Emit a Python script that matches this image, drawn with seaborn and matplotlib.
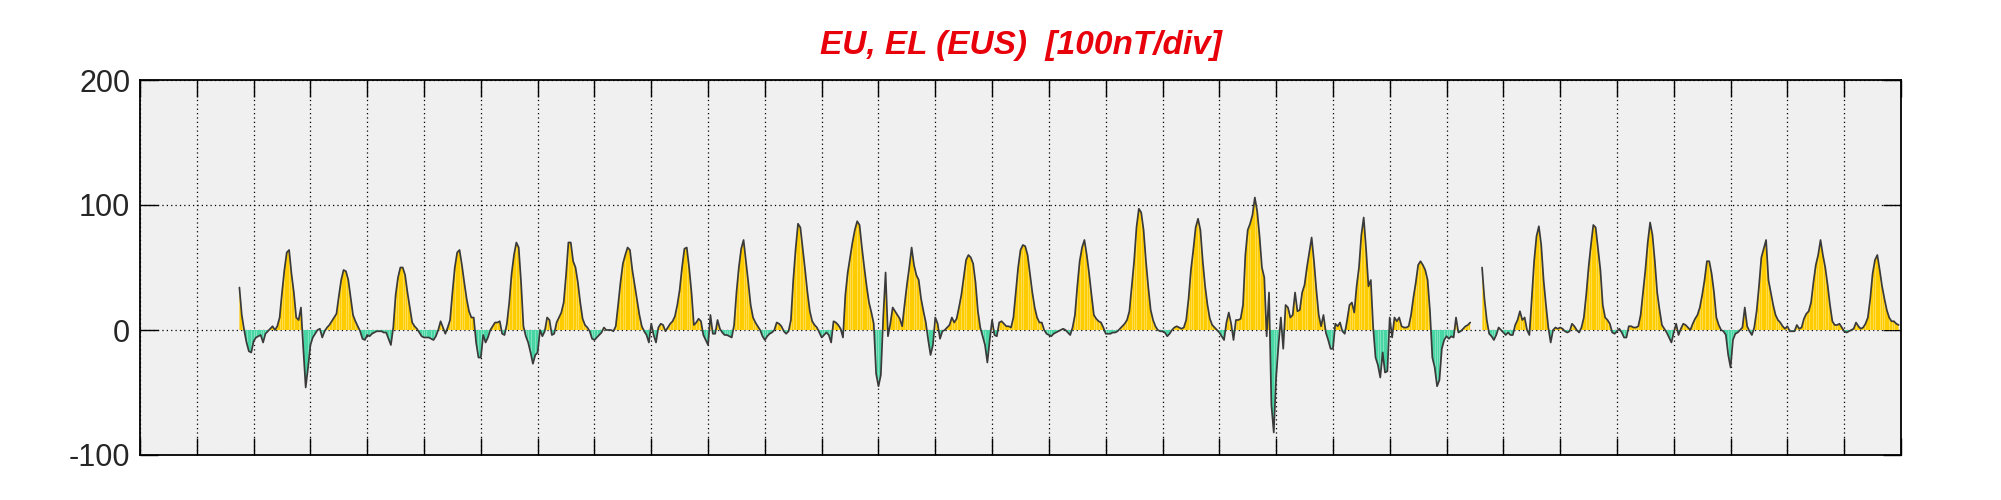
import numpy as np
import pandas as pd
import matplotlib
matplotlib.use("Agg")
import matplotlib.pyplot as plt
import seaborn as sns

nan = np.nan

# Hourly EU/EL values (nT), one list per calendar day (24 hours each)
day02 = [nan]*18 + [34, 12, 0, -10, -17, -18]
day03 = [-9, -6, -5, -4, -10, -3, -1, 1, 3, 0, 3, 10, 30, 48, 62, 64, 45, 30, 10, 8, 18, -15, -46, -30]
day04 = [-12, -6, -3, 0, 1, -6, -1, 2, 4, 7, 10, 13, 27, 40, 48, 47, 40, 26, 12, 7, 3, -1, -7, -8]
day05 = [-4, -5, -3, -2, -1, -1, -1, -2, -2, -7, -12, 2, 28, 42, 50, 50, 44, 30, 18, 6, 3, 1, -2, -5]
day06 = [-6, -6, -6, -7, -8, -5, 0, 7, 2, -3, 2, 8, 30, 50, 62, 64, 52, 38, 25, 15, 10, 10, -10, -22]
day07 = [-22, -4, -10, -6, 0, 3, 6, 6, 7, -3, -4, 5, 22, 45, 60, 70, 66, 38, 3, -5, -10, -18, -27, -20]
day08 = [-18, 0, -5, -1, 10, 8, -4, -3, 6, 10, 14, 22, 44, 70, 70, 55, 50, 38, 22, 9, 4, 2, -1, -7]
day09 = [-8, -6, -4, -2, 2, 0, 0, 0, -1, 3, 20, 38, 53, 60, 66, 64, 48, 36, 24, 12, 3, -1, -4, -10]
day10 = [5, -4, -10, 2, 5, 4, -1, 2, 5, 7, 11, 20, 32, 50, 65, 66, 50, 30, 4, 6, 9, 7, -4, -8]
day11 = [-12, 12, -3, -3, 8, 1, -2, -4, -4, -5, -6, 4, 30, 50, 65, 72, 55, 38, 20, 10, 6, 3, 0, -5]
day12 = [-8, -5, -3, -2, 0, 6, 5, 3, -1, -3, -1, 8, 40, 65, 85, 82, 65, 48, 30, 15, 7, 4, 2, -2]
day13 = [-6, -4, -2, -4, -10, 7, 6, 4, 1, -6, 28, 46, 58, 70, 80, 87, 84, 66, 50, 35, 22, 14, 5, -35]
day14 = [-45, -36, 10, 46, -5, 5, 18, 15, 12, 9, 3, 20, 36, 50, 66, 52, 44, 40, 25, 15, 6, -8, -20, -12]
day15 = [10, 5, -7, -1, 0, 2, 4, 10, 6, 9, 18, 28, 42, 56, 60, 58, 53, 38, 15, 2, -5, -12, -26, -8]
day16 = [8, -4, -5, 6, 7, 5, 3, 3, 2, 10, 30, 50, 64, 68, 67, 60, 45, 30, 18, 10, 6, 6, 0, -3]
day17 = [-4, -5, -3, -2, -1, 0, 1, 0, -2, -4, 2, 12, 35, 55, 66, 72, 60, 45, 28, 12, 9, 7, 6, 2]
day18 = [-3, -3, -3, -2, -2, -1, 1, 3, 5, 8, 15, 35, 55, 82, 97, 94, 80, 55, 34, 16, 8, 3, 0, -1]
day19 = [-1, -2, -5, -3, 0, 2, 3, 2, 1, 2, 8, 25, 48, 64, 82, 89, 80, 55, 35, 20, 9, 4, 2, 0]
day20 = [-2, -5, -8, 6, 14, 5, -8, 8, 8, 9, 20, 60, 80, 85, 92, 106, 95, 75, 50, 42, -5, 30, -60, -82]
day21 = [-38, -12, 10, -15, 20, 18, 10, 12, 30, 15, 16, 30, 36, 50, 62, 74, 55, 32, 12, 3, 12, -2, -8, -15]
day22 = [-15, 5, 3, 6, -1, -3, 8, 20, 22, 14, 35, 50, 76, 90, 65, 35, 40, 2, -22, -28, -38, -18, -34, -33]
day23 = [10, -6, 10, 7, 10, 3, 2, 2, 3, 12, 26, 38, 52, 55, 52, 48, 40, 15, -22, -30, -45, -40, -15, -8]
day24 = [-5, -7, -5, -6, 10, -2, -1, 1, 3, 4, 6, nan, nan, nan, nan, 50, 25, 8, -3, -5, -8, -4, 2, 0]
day25 = [-2, -4, -2, -4, -4, 4, 8, 15, 8, 10, 0, -4, 25, 55, 75, 83, 68, 40, 20, 2, -10, 0, 2, 1]
day26 = [2, 1, -1, -2, -1, 5, 3, 0, -2, 2, 10, 28, 50, 68, 84, 82, 65, 48, 20, 10, 8, 5, -2, -3]
day27 = [-1, 1, -2, -6, -6, 3, 3, 2, 2, 3, 12, 30, 48, 70, 86, 76, 55, 30, 16, 4, 1, -2, -6, -10]
day28 = [-2, 5, -4, 1, 5, 4, 2, 0, 5, 9, 12, 18, 28, 40, 55, 55, 45, 30, 10, 4, 0, -1, -4, -20]
day29 = [-30, -8, -3, -2, 0, 2, 18, 3, -1, -4, 2, 15, 35, 58, 65, 72, 40, 30, 20, 12, 8, 6, 3, 1]
day30 = [3, -1, -1, -1, 4, 1, 2, 9, 13, 15, 22, 38, 52, 60, 72, 60, 50, 36, 20, 7, 4, 4, 5, 2]
day31 = [-1, -2, -1, 0, 1, 6, 3, 1, 2, 5, 10, 25, 45, 56, 60, 48, 35, 25, 16, 10, 7, 7, 5, 4]

first_day = 2
days = [day02, day03, day04, day05, day06, day07, day08, day09, day10, day11,
        day12, day13, day14, day15, day16, day17, day18, day19, day20, day21,
        day22, day23, day24, day25, day26, day27, day28, day29, day30, day31]

y_ticks = [-100, 0, 100, 200]
y_ticklabels = ["-100", "0", "100", "200"]
n_days = 31
title = "EU, EL (EUS)  [100nT/div]"

values = np.concatenate([np.asarray(d, dtype=float) for d in days])
hours = np.arange(len(values)) + (first_day - 1) * 24
t = hours / 24.0
seg = np.cumsum(np.isnan(values))
df = pd.DataFrame({"t": t, "v": values, "seg": seg}).dropna()

sns.set_style("ticks")
plt.rcParams["font.family"] = ["Liberation Sans", "DejaVu Sans"]
plt.rcParams["axes.unicode_minus"] = False

fig = plt.figure(figsize=(20.01, 5.0), dpi=100)
ax = fig.add_axes([140 / 2001, 45 / 500, 1761 / 2001, 375 / 500])
ax.set_facecolor("#f0f0f0")

yellow = "#ffcc00"
green = "#48d6a4"

ax.fill_between(t, 0, values, where=values >= 0, interpolate=True, color=yellow, lw=0, zorder=2)
ax.fill_between(t, 0, values, where=values <= 0, interpolate=True, color=green, lw=0, zorder=2)

# faint white stripes inside the fill (bar-like rendering of the original)
stripe = df[(df["t"] * 12).round().astype(int) % 2 == 0]
ax.vlines(stripe["t"], 0, stripe["v"] * 0.95, colors="white", lw=0.5, alpha=0.45, zorder=3)

sns.lineplot(data=df, x="t", y="v", units="seg", estimator=None, color="#3a3a3a",
             lw=1.25, ax=ax, zorder=4)

ax.set_xlim(0, n_days)
ax.set_ylim(-100, 200)
ax.set_xticks(np.arange(0, n_days + 1))
ax.set_xticklabels([])
ax.set_yticks(y_ticks)
ax.set_yticklabels(y_ticklabels, fontsize=22)
ax.set_xlabel("")
ax.set_ylabel("")

ax.tick_params(axis="x", direction="in", length=12, width=1.0, top=True, bottom=True, color="black")
ax.tick_params(axis="y", direction="in", length=13, width=1.0, left=True, right=True, pad=7, color="black")

ax.grid(True, which="major", color="black", linestyle=(0, (1, 2.5)), lw=0.9, zorder=1)
ax.set_axisbelow(True)
for s in ax.spines.values():
    s.set_visible(True)
    s.set_color("black")
    s.set_linewidth(1.3)

ax.set_title(title, color="#e8000b", fontsize=24, fontweight="bold", fontstyle="italic", pad=19)

fig.savefig("out.png", dpi=100, facecolor="white")
